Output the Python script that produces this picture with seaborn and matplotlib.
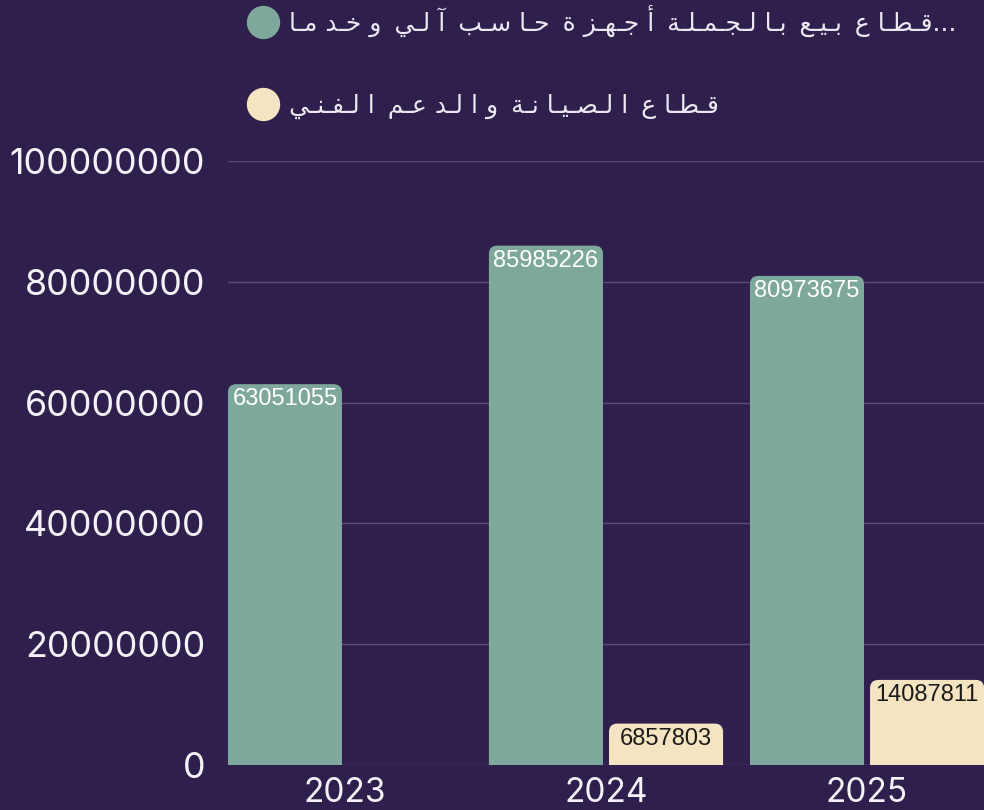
import numpy as np
import pandas as pd
import seaborn as sns
import matplotlib.pyplot as plt
from matplotlib.patches import FancyBboxPatch
from matplotlib.lines import Line2D
from matplotlib.ticker import StrMethodFormatter

# البيانات
years = ['2023', '2024', '2025']
sectors = ['قطاع بيع بالجملة أجهزة حاسب آلي وخدما', 'قطاع الصيانة والدعم الفني']
wholesale = [63051055, 85985226, 80973675]
maintenance = [None, 6857803, 14087811]
colors = ['#7fa89c', '#f5e4c1']
label_colors = ['#ffffff', '#1b1b1b']
yticks = [0, 20000000, 40000000, 60000000, 80000000, 100000000]

bg = '#2e1f4c'

# تشكيل الحروف العربية (matplotlib لا يدعم الوصل ولا الاتجاه من اليمين)
AR_FORMS = {
    'ا': (0xFE8D, False), 'أ': (0xFE83, False), 'آ': (0xFE81, False),
    'ب': (0xFE8F, True), 'ة': (0xFE93, False), 'ت': (0xFE95, True),
    'ج': (0xFE9D, True), 'ح': (0xFEA1, True), 'خ': (0xFEA5, True),
    'د': (0xFEA9, False), 'ز': (0xFEAF, False), 'س': (0xFEB1, True),
    'ص': (0xFEB9, True), 'ط': (0xFEC1, True), 'ع': (0xFEC9, True),
    'ف': (0xFED1, True), 'ق': (0xFED5, True), 'ل': (0xFEDD, True),
    'م': (0xFEE1, True), 'ن': (0xFEE5, True), 'ه': (0xFEE9, True),
    'و': (0xFEED, False), 'ي': (0xFEF1, True),
}


def shape(text):
    out = []
    for i, ch in enumerate(text):
        if ch not in AR_FORMS:
            out.append(' \u2009' if ch == ' ' else ch)
            continue
        iso, dual = AR_FORMS[ch]
        prev = text[i - 1] if i > 0 else ''
        nxt = text[i + 1] if i + 1 < len(text) else ''
        jp = prev in AR_FORMS and AR_FORMS[prev][1]
        jn = dual and nxt in AR_FORMS
        out.append(chr(iso + int(jp) + 2 * int(jn)))
        if i + 1 < len(text) and nxt != ' ':
            out.append('\u0640' if jn else ' ')
    return ''.join(reversed(out))


rows = []
for i, y in enumerate(years):
    rows.append((y, sectors[0], wholesale[i]))
    if maintenance[i] is not None:
        rows.append((y, sectors[1], maintenance[i]))
df = pd.DataFrame(rows, columns=['year', 'sector', 'value'])

sns.set_theme(style='white')
plt.rcParams['font.family'] = ['Inter', 'DejaVu Sans']

fig = plt.figure(figsize=(9.84, 8.10), dpi=100, facecolor=bg)
ax = fig.add_axes([228 / 984, 45 / 810, 756 / 984, 604 / 810])
ax.set_facecolor(bg)

sns.barplot(data=df, x='year', y='value', hue='sector', hue_order=sectors,
            order=years, palette=colors, saturation=1, width=0.92, gap=0.05,
            errorbar=None, legend=False, ax=ax)

ax.set_xlim(-0.448, 2.448)
ax.set_ylim(0, 100000000)
ax.set_yticks(yticks)
ax.yaxis.set_major_formatter(StrMethodFormatter('{x:.0f}'))
ax.set_xlabel('')
ax.set_ylabel('')
for s in ax.spines.values():
    s.set_visible(False)
ax.grid(axis='y', color='#5a4b7a', lw=1)
ax.grid(axis='x', visible=False)
ax.set_axisbelow(True)
ax.tick_params(axis='y', length=0, pad=16.5, labelsize=25.8, labelcolor='#f4f2f7')
ax.tick_params(axis='x', length=0, pad=9, labelsize=24, labelcolor='#f4f2f7')

# زوايا مستديرة للأعمدة
fig.canvas.draw()
bb = ax.get_window_extent()
asp = (100000000 / bb.height) / (2.896 / bb.width)
r = 0.032
bars = []
for k, cont in enumerate(ax.containers):
    for p in cont.patches:
        h = p.get_height()
        if not np.isfinite(h) or h == 0:
            p.remove()
            continue
        bars.append((p.get_x(), p.get_width(), h, k))
        p.remove()

for x, w, h, k in bars:
    fb = FancyBboxPatch((x, -r * asp), w, h + r * asp,
                        boxstyle=f'round,pad=0,rounding_size={r}',
                        mutation_aspect=asp, fc=colors[k], ec='none', zorder=2)
    ax.add_patch(fb)
    ax.annotate(f'{h:.0f}', (x + w / 2, h), xytext=(0, -3), textcoords='offset points',
                ha='center', va='top', fontsize=17, color=label_colors[k],
                family='Liberation Sans', zorder=3)

handles = [Line2D([], [], marker='o', ls='none', ms=23, mfc=c, mec=c) for c in colors]
labels = [shape(sectors[0]) + '...', shape(sectors[1])]
fig.legend(handles, labels, loc='upper left', bbox_to_anchor=(238 / 984, 1 + 8 / 810),
           frameon=False, prop={'family': 'DejaVu Sans', 'size': 18},
           labelcolor='#ece8f2', handletextpad=0.55, labelspacing=2.3,
           borderpad=0, handlelength=1.0)

fig.savefig('out.png', dpi=100, facecolor=bg)
